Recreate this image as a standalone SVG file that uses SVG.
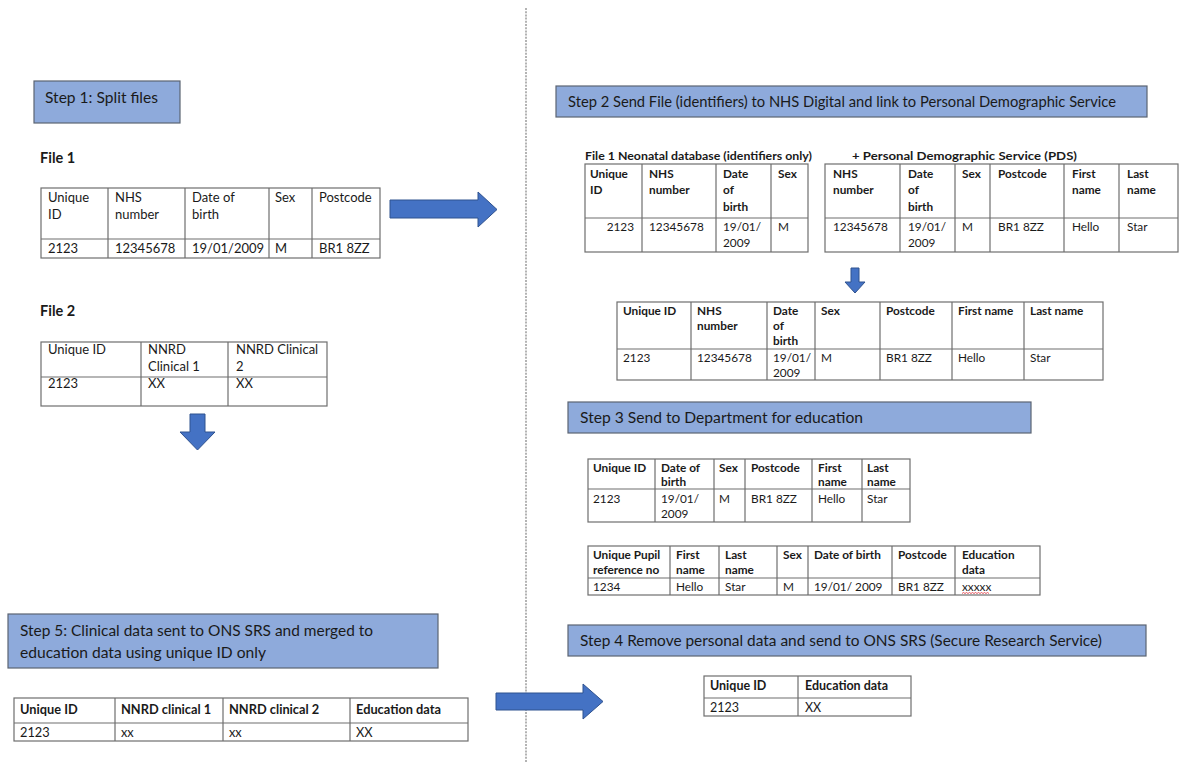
<svg xmlns="http://www.w3.org/2000/svg" width="1179" height="762" viewBox="0 0 1179 762">
<style>
text{font-family:Lato,"Liberation Sans",sans-serif;fill:#1a1a1a}
.step{fill:#8eaadb;stroke:#5b6472;stroke-width:1.2}
.st{font-size:15.4px}
.tb{fill:#fff;stroke:#6e6e6e;stroke-width:1.2}
.ln{stroke:#6e6e6e;stroke-width:1.2}
.t{font-size:11.8px}
.tl{font-size:13px}
.t4{font-size:12.5px}
.t5{font-size:12.8px}
.b{font-weight:bold}
.lbl{font-size:14.5px;font-weight:bold}
.arr{fill:#4472c4;stroke:#2f528f;stroke-width:1}
.sep{stroke:#9a9a9a;stroke-width:1.5;stroke-dasharray:2 1.2;fill:none}
</style>
<rect width="1179" height="762" fill="#fff"/>
<line class="sep" x1="526" y1="8" x2="526" y2="762"/>

<g id="step1">
<rect class="step" x="34" y="81" width="146" height="42"/>
<text class="st" x="45" y="103" textLength="113" lengthAdjust="spacingAndGlyphs">Step 1: Split files</text>
</g>

<g id="file1">
<text class="lbl" x="40" y="163">File 1</text>
<rect class="tb" x="41" y="188" width="339" height="70"/>
<line class="ln" x1="41" y1="239" x2="380" y2="239"/>
<line class="ln" x1="108" y1="188" x2="108" y2="258"/>
<line class="ln" x1="185" y1="188" x2="185" y2="258"/>
<line class="ln" x1="269" y1="188" x2="269" y2="258"/>
<line class="ln" x1="312" y1="188" x2="312" y2="258"/>
<text class="tl" x="48" y="202">Unique</text><text class="tl" x="48" y="219">ID</text>
<text class="tl" x="115" y="202">NHS</text><text class="tl" x="115" y="219">number</text>
<text class="tl" x="192" y="202">Date of</text><text class="tl" x="192" y="219">birth</text>
<text class="tl" x="275" y="202">Sex</text>
<text class="tl" x="319" y="202">Postcode</text>
<text class="tl" x="48" y="253">2123</text>
<text class="tl" x="115" y="253">12345678</text>
<text class="tl" x="192" y="253">19/01/2009</text>
<text class="tl" x="275" y="253">M</text>
<text class="tl" x="319" y="253">BR1 8ZZ</text>
</g>

<g id="file2">
<text class="lbl" x="40" y="316">File 2</text>
<rect class="tb" x="41" y="342" width="286" height="64"/>
<line class="ln" x1="41" y1="377" x2="327" y2="377"/>
<line class="ln" x1="141" y1="342" x2="141" y2="406"/>
<line class="ln" x1="228" y1="342" x2="228" y2="406"/>
<text class="tl" x="48" y="354">Unique ID</text>
<text class="tl" x="148" y="354">NNRD</text><text class="tl" x="148" y="371">Clinical 1</text>
<text class="tl" x="236" y="354">NNRD Clinical</text><text class="tl" x="236" y="371">2</text>
<text class="tl" x="48" y="388">2123</text>
<text class="tl" x="148" y="388">XX</text>
<text class="tl" x="236" y="388">XX</text>
</g>

<g id="step2">
<rect class="step" x="556" y="86" width="591" height="31"/>
<text class="st" x="568" y="107" textLength="548" lengthAdjust="spacingAndGlyphs">Step 2 Send File (identifiers) to NHS Digital and link to Personal Demographic Service</text>
</g>

<g id="step2-tables">
<text class="t b" x="585" y="160" textLength="227" lengthAdjust="spacingAndGlyphs">File 1  Neonatal database (identifiers only)</text>
<text class="t b" x="852" y="160" textLength="225" lengthAdjust="spacingAndGlyphs">+ Personal Demographic Service (PDS)</text>
<rect class="tb" x="585" y="164" width="223" height="88"/>
<line class="ln" x1="585" y1="218" x2="808" y2="218"/>
<line class="ln" x1="642" y1="164" x2="642" y2="252"/>
<line class="ln" x1="716" y1="164" x2="716" y2="252"/>
<line class="ln" x1="771" y1="164" x2="771" y2="252"/>
<text class="t b" x="590" y="178">Unique</text><text class="t b" x="590" y="194">ID</text>
<text class="t b" x="649" y="178">NHS</text><text class="t b" x="649" y="194">number</text>
<text class="t b" x="723" y="178">Date</text><text class="t b" x="723" y="194">of</text><text class="t b" x="723" y="211">birth</text>
<text class="t b" x="778" y="178">Sex</text>
<text class="t" x="634" y="231" text-anchor="end">2123</text>
<text class="t" x="649" y="231">12345678</text>
<text class="t" x="723" y="231">19/01/</text><text class="t" x="723" y="247">2009</text>
<text class="t" x="778" y="231">M</text>

<rect class="tb" x="825" y="164" width="353" height="88"/>
<line class="ln" x1="825" y1="218" x2="1178" y2="218"/>
<line class="ln" x1="900" y1="164" x2="900" y2="252"/>
<line class="ln" x1="955" y1="164" x2="955" y2="252"/>
<line class="ln" x1="990" y1="164" x2="990" y2="252"/>
<line class="ln" x1="1064" y1="164" x2="1064" y2="252"/>
<line class="ln" x1="1119" y1="164" x2="1119" y2="252"/>
<text class="t b" x="833" y="178">NHS</text><text class="t b" x="833" y="194">number</text>
<text class="t b" x="908" y="178">Date</text><text class="t b" x="908" y="194">of</text><text class="t b" x="908" y="211">birth</text>
<text class="t b" x="962" y="178">Sex</text>
<text class="t b" x="998" y="178">Postcode</text>
<text class="t b" x="1072" y="178">First</text><text class="t b" x="1072" y="194">name</text>
<text class="t b" x="1127" y="178">Last</text><text class="t b" x="1127" y="194">name</text>
<text class="t" x="833" y="231">12345678</text>
<text class="t" x="908" y="231">19/01/</text><text class="t" x="908" y="247">2009</text>
<text class="t" x="962" y="231">M</text>
<text class="t" x="998" y="231">BR1 8ZZ</text>
<text class="t" x="1072" y="231">Hello</text>
<text class="t" x="1127" y="231">Star</text>
</g>

<g id="merged-table">
<rect class="tb" x="617" y="302" width="486" height="78"/>
<line class="ln" x1="617" y1="349" x2="1103" y2="349"/>
<line class="ln" x1="691" y1="302" x2="691" y2="380"/>
<line class="ln" x1="767" y1="302" x2="767" y2="380"/>
<line class="ln" x1="815" y1="302" x2="815" y2="380"/>
<line class="ln" x1="880" y1="302" x2="880" y2="380"/>
<line class="ln" x1="952" y1="302" x2="952" y2="380"/>
<line class="ln" x1="1024" y1="302" x2="1024" y2="380"/>
<text class="t b" x="623" y="315">Unique ID</text>
<text class="t b" x="697" y="315">NHS</text><text class="t b" x="697" y="330">number</text>
<text class="t b" x="773" y="315">Date</text><text class="t b" x="773" y="330">of</text><text class="t b" x="773" y="345">birth</text>
<text class="t b" x="821" y="315">Sex</text>
<text class="t b" x="886" y="315">Postcode</text>
<text class="t b" x="958" y="315">First name</text>
<text class="t b" x="1030" y="315">Last name</text>
<text class="t" x="623" y="362">2123</text>
<text class="t" x="697" y="362">12345678</text>
<text class="t" x="773" y="362">19/01/</text><text class="t" x="773" y="377">2009</text>
<text class="t" x="821" y="362">M</text>
<text class="t" x="886" y="362">BR1 8ZZ</text>
<text class="t" x="958" y="362">Hello</text>
<text class="t" x="1030" y="362">Star</text>
</g>

<g id="step3">
<rect class="step" x="568" y="402" width="463" height="31"/>
<text class="st" x="580" y="423" textLength="283" lengthAdjust="spacingAndGlyphs">Step 3 Send to Department for education</text>
</g>

<g id="step3-table1">
<rect class="tb" x="588" y="459" width="322" height="63"/>
<line class="ln" x1="588" y1="489" x2="910" y2="489"/>
<line class="ln" x1="655" y1="459" x2="655" y2="522"/>
<line class="ln" x1="714" y1="459" x2="714" y2="522"/>
<line class="ln" x1="745" y1="459" x2="745" y2="522"/>
<line class="ln" x1="812" y1="459" x2="812" y2="522"/>
<line class="ln" x1="862" y1="459" x2="862" y2="522"/>
<text class="t b" x="593" y="472">Unique ID</text>
<text class="t b" x="661" y="472">Date of</text><text class="t b" x="661" y="486">birth</text>
<text class="t b" x="719" y="472">Sex</text>
<text class="t b" x="751" y="472">Postcode</text>
<text class="t b" x="818" y="472">First</text><text class="t b" x="818" y="486">name</text>
<text class="t b" x="867" y="472">Last</text><text class="t b" x="867" y="486">name</text>
<text class="t" x="593" y="503">2123</text>
<text class="t" x="661" y="503">19/01/</text><text class="t" x="661" y="518">2009</text>
<text class="t" x="719" y="503">M</text>
<text class="t" x="751" y="503">BR1 8ZZ</text>
<text class="t" x="818" y="503">Hello</text>
<text class="t" x="867" y="503">Star</text>
</g>

<g id="step3-table2">
<rect class="tb" x="588" y="546" width="452" height="49"/>
<line class="ln" x1="588" y1="578" x2="1040" y2="578"/>
<line class="ln" x1="670" y1="546" x2="670" y2="595"/>
<line class="ln" x1="719" y1="546" x2="719" y2="595"/>
<line class="ln" x1="777" y1="546" x2="777" y2="595"/>
<line class="ln" x1="808" y1="546" x2="808" y2="595"/>
<line class="ln" x1="892" y1="546" x2="892" y2="595"/>
<line class="ln" x1="955" y1="546" x2="955" y2="595"/>
<text class="t b" x="593" y="559">Unique Pupil</text><text class="t b" x="593" y="574">reference no</text>
<text class="t b" x="676" y="559">First</text><text class="t b" x="676" y="574">name</text>
<text class="t b" x="725" y="559">Last</text><text class="t b" x="725" y="574">name</text>
<text class="t b" x="783" y="559">Sex</text>
<text class="t b" x="814" y="559">Date of birth</text>
<text class="t b" x="898" y="559">Postcode</text>
<text class="t b" x="962" y="559">Education</text><text class="t b" x="962" y="574">data</text>
<text class="t" x="593" y="591">1234</text>
<text class="t" x="676" y="591">Hello</text>
<text class="t" x="725" y="591">Star</text>
<text class="t" x="783" y="591">M</text>
<text class="t" x="814" y="591">19/01/ 2009</text>
<text class="t" x="898" y="591">BR1 8ZZ</text>
<text class="t" x="962" y="591">xxxxx</text>
<path d="M962 593.5 l1.5 -1 l1.5 1 l1.5 -1 l1.5 1 l1.5 -1 l1.5 1 l1.5 -1 l1.5 1 l1.5 -1 l1.5 1 l1.5 -1 l1.5 1 l1.5 -1 l1.5 1 l1.5 -1 l1.5 1 l1.5 -1 l1.5 1" fill="none" stroke="#e0303a" stroke-width="0.8"/>
</g>

<g id="step4">
<rect class="step" x="568" y="625" width="578" height="31"/>
<text class="st" x="580" y="646" textLength="522" lengthAdjust="spacingAndGlyphs">Step 4 Remove personal data and send to ONS SRS (Secure Research Service)</text>
</g>

<g id="step4-table">
<rect class="tb" x="704" y="676" width="207" height="40"/>
<line class="ln" x1="704" y1="698" x2="911" y2="698"/>
<line class="ln" x1="798" y1="676" x2="798" y2="716"/>
<text class="t4 b" x="710" y="690">Unique ID</text>
<text class="t4 b" x="805" y="690">Education data</text>
<text class="t4" x="710" y="712">2123</text>
<text class="t4" x="805" y="712">XX</text>
</g>

<g id="step5">
<rect class="step" x="8" y="614" width="430" height="54"/>
<text class="st" x="20" y="636" textLength="353" lengthAdjust="spacingAndGlyphs">Step 5: Clinical data sent to ONS SRS and merged to</text>
<text class="st" x="20" y="658" textLength="246" lengthAdjust="spacingAndGlyphs">education data using unique ID only</text>
</g>

<g id="step5-table">
<rect class="tb" x="14" y="698" width="454" height="43"/>
<line class="ln" x1="14" y1="723" x2="468" y2="723"/>
<line class="ln" x1="115" y1="698" x2="115" y2="741"/>
<line class="ln" x1="223" y1="698" x2="223" y2="741"/>
<line class="ln" x1="350" y1="698" x2="350" y2="741"/>
<text class="t5 b" x="20" y="714">Unique ID</text>
<text class="t5 b" x="121" y="714">NNRD clinical 1</text>
<text class="t5 b" x="229" y="714">NNRD clinical 2</text>
<text class="t5 b" x="356" y="714">Education data</text>
<text class="t5" x="20" y="737">2123</text>
<text class="t5" x="121" y="737">xx</text>
<text class="t5" x="229" y="737">xx</text>
<text class="t5" x="356" y="737">XX</text>
</g>

<g id="connectors">
<path class="arr" d="M390 200 H478 V192 L497 209.5 L478 227 V218 H390 Z"/>
<path class="arr" d="M190 414 H205 V432 H215 L197.5 450 L180 432 H190 Z"/>
<path class="arr" d="M851 268 H859 V282 H865 L855 293 L845 282 H851 Z"/>
<path class="arr" d="M496 693 H583 V684 L603 701.5 L583 719 V710 H496 Z"/>
</g>
</svg>
